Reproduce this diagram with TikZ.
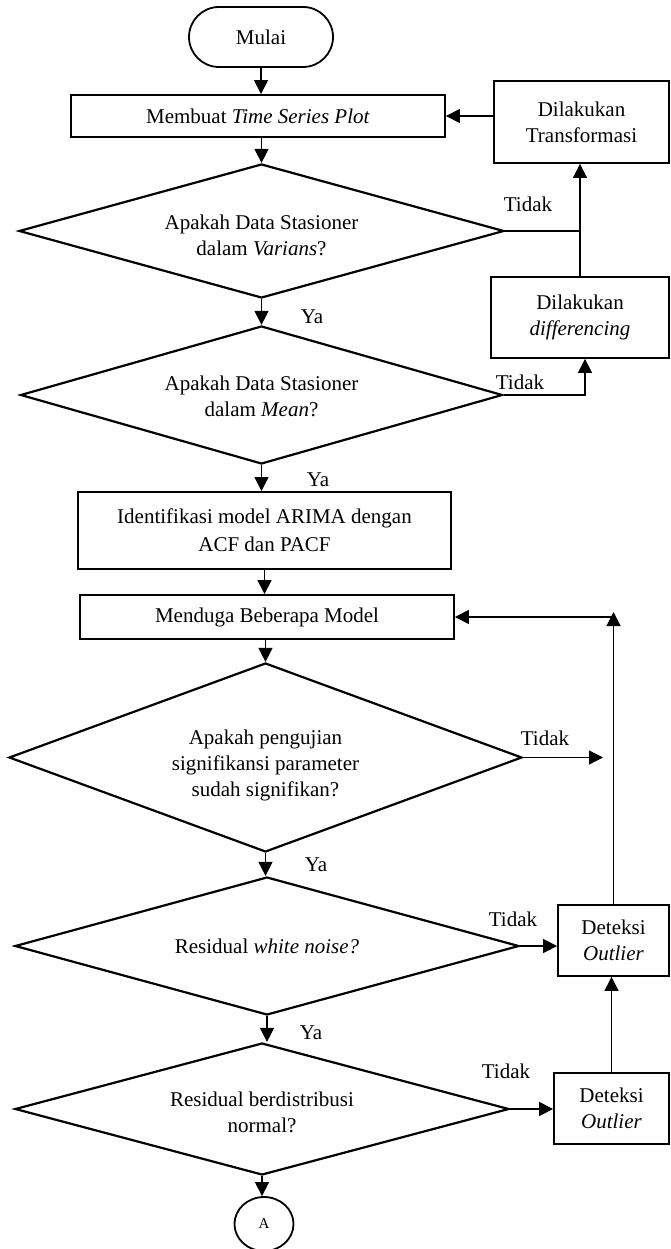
\documentclass[tikz,border=0pt]{standalone}
\usepackage{fontspec}
\setmainfont{Liberation Serif}
\usetikzlibrary{shapes.geometric,shapes.misc,arrows.meta}
\newcommand\dtxt[2]{\raisebox{-#1pt}[0pt][0pt]{\begin{tabular}{@{}c@{}}#2\end{tabular}}}
\begin{document}
\begin{tikzpicture}[x=1pt,y=-1pt,
  every node/.style={font=\fontsize{21}{26}\selectfont, inner sep=0pt},
  box/.style={draw, rectangle, line width=1.8pt, align=center},
  dia/.style={draw, diamond, line width=2.2pt, align=center, aspect=3},
  conn/.style={line width=1.2pt},
  arr/.style={conn, -{Triangle[length=14pt,width=14pt]}},
]
\useasboundingbox (0,0) rectangle (670,1249);
% nodes
\node[draw, rounded rectangle, line width=1.8pt, minimum width=144pt, minimum height=60pt] (start) at (261,37) {Mulai};
\node[box, minimum width=374pt, minimum height=42pt] (plot) at (258,116) {Membuat \textit{Time Series Plot}};
\node[box, minimum width=175pt, minimum height=82pt] (trans) at (581.5,122) {Dilakukan\\Transformasi};
\node[dia, minimum width=485pt, minimum height=134pt] (d1) at (261.5,231) {\dtxt{11}{Apakah Data Stasioner\\dalam \textit{Varians}?}};
\node[box, minimum width=178pt, minimum height=81pt] (diff) at (580,317.5) {Dilakukan\\\textit{differencing}};
\node[dia, minimum width=482pt, minimum height=138pt] (d2) at (261.5,395) {\dtxt{8}{Apakah Data Stasioner\\dalam \textit{Mean}?}};
\node[box, minimum width=373pt, minimum height=77pt] (ident) at (264.5,530.5) {Identifikasi model ARIMA dengan\\[2pt]ACF dan PACF};
\node[box, minimum width=374pt, minimum height=44pt] (menduga) at (267,617) {Menduga Beberapa Model};
\node[dia, aspect=2.7, minimum width=513pt, minimum height=189pt] (d3) at (265.5,757.5) {\dtxt{13}{Apakah pengujian\\signifikansi parameter\\sudah signifikan?}};
\node[dia, minimum width=504pt, minimum height=138pt] (d4) at (267,946) {\dtxt{7}{Residual \textit{white noise?}}};
\node[box, minimum width=111pt, minimum height=71pt] (out1) at (613.5,940.5) {Deteksi\\\textit{Outlier}};
\node[dia, minimum width=494pt, minimum height=132pt] (d5) at (262,1109) {\dtxt{10}{Residual berdistribusi\\normal?}};
\node[box, minimum width=115pt, minimum height=71pt] (out2) at (611.5,1108.5) {Deteksi\\\textit{Outlier}};
\node[draw, ellipse, line width=1.8pt, minimum width=59pt, minimum height=54pt, font=\fontsize{15}{18}\selectfont] (A) at (264,1224) {A};
% labels
\node (t1) at (528,204) {Tidak};
\node (y1) at (312,317) {Ya};
\node (t2) at (520,382) {Tidak};
\node (y2) at (318,480) {Ya};
\node (t3) at (545,738) {Tidak};
\node (y3) at (316,865) {Ya};
\node (t4) at (513,919) {Tidak};
\node (y4) at (311,1033) {Ya};
\node (t5) at (506,1071) {Tidak};
% connectors
\draw[arr] (start.south) -- (start.south |- plot.north);
\draw[arr] (d1.north |- plot.south) -- (d1.north);
\draw[arr] (trans.west |- plot.east) -- (plot.east);
\coordinate (j1) at (d1.east -| diff.north);
\draw[conn] (d1.east) -- (j1);
\draw[arr] (diff.north) -- (diff.north |- trans.south);
\draw[arr] (d1.south) -- (d1.south |- d2.north);
\coordinate (j2) at ([xshift=5pt]diff.south);
\draw[arr] (d2.east) -| (j2);
\draw[arr] (d2.south) -- (d2.south |- ident.north);
\draw[arr] (ident.south) -- (ident.south |- menduga.north);
\draw[arr] (d3.north |- menduga.south) -- (d3.north);
\coordinate (e3) at (603,757.5);
\draw[arr] (d3.east) -- (e3);
\draw[arr] (d3.south) -- (d3.south |- d4.north);
\draw[arr] (d4.east) -- (d4.east -| out1.west);
\coordinate (c1) at (out1.north |- menduga.east);
\draw[arr, shorten >=-5pt] (out1.north) -- (c1);
\draw[arr] (c1) -- (menduga.east);
\draw[arr] (d4.south) -- (d4.south |- d5.north);
\draw[arr] (d5.east) -- (d5.east -| out2.west);
\draw[arr] (out2.north) -- (out2.north |- out1.south);
\draw[arr] (d5.south) -- (d5.south |- A.north);
\end{tikzpicture}
\end{document}
